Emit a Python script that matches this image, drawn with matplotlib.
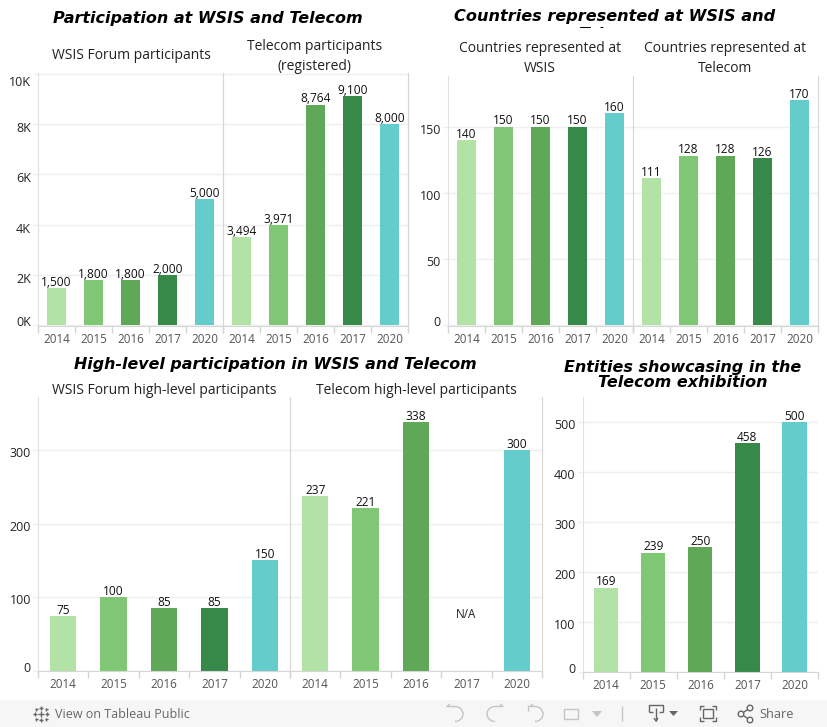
import matplotlib
matplotlib.use("Agg")
import matplotlib.pyplot as plt
from matplotlib.patches import Rectangle, Circle, Arc
from matplotlib.transforms import Bbox, ScaledTranslation
from matplotlib.ticker import FixedLocator, FixedFormatter

W, H = 827, 727
plt.rcParams['font.family'] = ['Open Sans', 'DejaVu Sans']

years = ['2014', '2015', '2016', '2017', '2020']
colors = ['#b3e2a6', '#80c775', '#5ea857', '#37894a', '#64cdcc']

wsis_participants = [1500, 1800, 1800, 2000, 5000]
telecom_participants = [3494, 3971, 8764, 9100, 8000]
wsis_countries = [140, 150, 150, 150, 160]
telecom_countries = [111, 128, 128, 126, 170]
wsis_high_level = [75, 100, 85, 85, 150]
telecom_high_level = [237, 221, 338, None, 300]
exhibition_entities = [169, 239, 250, 458, 500]

fig = plt.figure(figsize=(W / 100, H / 100), dpi=100, facecolor='white')

GRID = '#efefef'
AXIS = '#d6d6d6'
TICKC = '#555555'


def make_axes(l, r, t, b):
    return fig.add_axes([l / W, 1 - b / H, (r - l) / W, (b - t) / H])


def pane(l, r, t, b, zero_px, per_unit, values, yticks, ylabels, first, shifts=None, label_size=8.6):
    ax = make_axes(l, r, t, b)
    ax.set_xlim(-0.5, 4.5)
    ax.set_ylim((zero_px - b) / per_unit, (zero_px - t) / per_unit)
    ax.set_axisbelow(True)
    xs = [i for i, v in enumerate(values) if v is not None]
    ax.bar(xs, [values[i] for i in xs], width=0.52,
           color=[colors[i] for i in xs], linewidth=0, zorder=2)
    for i in xs:
        ax.annotate(f'{values[i]:,}', (i, values[i]), xytext=(0, -0.6),
                    textcoords='offset points', ha='center', va='bottom',
                    fontsize=label_size, color='#111111', zorder=4)
    ax.yaxis.set_major_locator(FixedLocator(yticks))
    ax.yaxis.set_major_formatter(FixedFormatter(ylabels if first else [''] * len(yticks)))
    ax.grid(axis='y', color=GRID, linewidth=1)
    ax.tick_params(axis='y', length=3.6 if first else 0, color=GRID,
                   labelsize=9, labelcolor='#222222', pad=1.5, width=1)
    ax.set_xticks(range(5))
    ax.set_xticklabels(years, fontsize=8.4, color=TICKC)
    ax.tick_params(axis='x', length=0, pad=5.2)
    ax.set_xticks([i + 0.5 for i in range(-1, 5)], minor=True)
    ax.tick_params(axis='x', which='minor', length=5, color=AXIS, width=1)
    ax.spines['top'].set_visible(False)
    ax.spines['bottom'].set_color(AXIS)
    ax.spines['left'].set_color('#e2e2e2' if first else AXIS)
    ax.spines['right'].set_color(AXIS)
    ax.spines['right'].set_visible(not first)
    if shifts:
        for lab, s in zip(ax.get_yticklabels(), shifts):
            lab.set_transform(lab.get_transform() + ScaledTranslation(0, -s / 100, fig.dpi_scale_trans))
    return ax


K = 25.2
pane(38, 223, 73, 326, 325.5, K / 1000, wsis_participants,
     [0, 2000, 4000, 6000, 8000, 10000], ['0K', '2K', '4K', '6K', '8K', '10K'], True,
     shifts=[-4, 3, 3, 3, 3, 8])
pane(223, 408, 73, 326, 325.5, K / 1000, telecom_participants,
     [0, 2000, 4000, 6000, 8000, 10000], [''] * 6, False)

pane(448, 633, 76, 326, 325, 1.323, wsis_countries,
     [0, 50, 100, 150], ['0', '50', '100', '150'], True, shifts=[-4, 2, 2, 2])
pane(633, 818, 76, 326, 325, 1.323, telecom_countries,
     [0, 50, 100, 150], [''] * 4, False)

pane(38, 290, 397, 671, 671, 0.7367, wsis_high_level,
     [0, 100, 200, 300], ['0', '100', '200', '300'], True, shifts=[-4, 2, 2, 2])
ax_hl = pane(290, 542, 397, 671, 671, 0.7367, telecom_high_level,
             [0, 100, 200, 300], [''] * 4, False)
ax_hl.text(3, 77, 'N/A', ha='center', va='center', fontsize=8.4, color='#222222')

ax4 = pane(582.5, 818, 397, 672, 672, 0.5, exhibition_entities,
           [0, 100, 200, 300, 400, 500], ['0', '100', '200', '300', '400', '500'], True,
           shifts=[-4, 2, 2, 2, 2, 2])

# Overlay in pixel coordinates for titles and the toolbar
ov = fig.add_axes([0, 0, 1, 1], facecolor='none')
ov.set_xlim(0, W)
ov.set_ylim(H, 0)
ov.axis('off')

title_kw = dict(family='DejaVu Sans', fontweight='bold', fontstyle='italic',
                fontsize=11.5, color='#000000', ha='center', va='center')
sub_kw = dict(fontsize=10.0, color='#222222', ha='center', va='center')

ov.text(208, 19, 'Participation at WSIS and Telecom', **title_kw)
clipped = ov.text(615, 25.5, 'Countries represented at WSIS and\nTelecom', linespacing=1.3,
                  **{**title_kw, 'fontsize': 11.6})
clipped.set_clip_box(Bbox([[0, H - 27.5], [W, H]]))
clipped.set_clip_on(True)
ov.text(275, 365, 'High-level participation in WSIS and Telecom',
        **{**title_kw, 'fontsize': 11.43})
ov.text(682.5, 375, 'Entities showcasing in the\nTelecom exhibition', linespacing=1.0, **title_kw)

ov.text(131, 55.5, 'WSIS Forum participants', **sub_kw)
ov.text(315, 56.5, 'Telecom participants\n(registered)', linespacing=1.5, **sub_kw)
ov.text(540, 58.5, 'Countries represented at\nWSIS', linespacing=1.5, **sub_kw)
ov.text(725, 58.5, 'Countries represented at\nTelecom', linespacing=1.5, **sub_kw)
ov.text(164, 390.5, 'WSIS Forum high-level participants', **sub_kw)
ov.text(416, 390.5, 'Telecom high-level participants', **sub_kw)

# Toolbar
ov.add_patch(Rectangle((0, 700), W, 27, facecolor='#f6f6f6', edgecolor='none', zorder=5))
ov.text(55, 714, 'View on Tableau Public', fontsize=9.0, color='#666666', va='center', zorder=6)
ov.text(759, 714, 'Share', fontsize=9.2, color='#666666', va='center', zorder=6)

ic = dict(color='#666666', linewidth=1, zorder=6, solid_capstyle='butt')
ig = dict(color='#c4c4c4', linewidth=1, zorder=6, solid_capstyle='butt')
# Tableau mark
for (cx, cy, s) in [(41, 714, 6), (35, 714, 4), (47, 714, 4), (41, 708, 4), (41, 720, 4),
                    (36, 709, 3), (46, 709, 3), (36, 719, 3), (46, 719, 3)]:
    ov.plot([cx - s / 2, cx + s / 2], [cy, cy], **ic)
    ov.plot([cx, cx], [cy - s / 2, cy + s / 2], **ic)
# Undo, redo, revert, refresh
ov.add_patch(Arc((455, 714), 16, 15, theta1=-90, theta2=90, color='#c4c4c4', lw=1, zorder=6))
ov.plot([455, 447, 450], [706.5, 706.5, 704], **ig)
ov.add_patch(Arc((495, 714), 16, 15, theta1=90, theta2=270, color='#c4c4c4', lw=1, zorder=6))
ov.plot([495, 503, 500], [706.5, 706.5, 704], **ig)
ov.add_patch(Arc((535, 714), 16, 15, theta1=-90, theta2=90, color='#c4c4c4', lw=1, zorder=6))
ov.plot([535, 530, 533], [706.5, 706.5, 704], **ig)
ov.plot([528, 528], [705, 711], **ig)
ov.add_patch(Rectangle((564, 709), 14, 10, facecolor='none', edgecolor='#c4c4c4', lw=1, zorder=6))
ov.fill([592, 602, 597], [711, 711, 717], color='#c4c4c4', zorder=6, lw=0)
ov.plot([622, 622], [706, 721], **ig)
# Download
ov.plot([649, 649, 663, 663], [712, 705, 705, 712], **ic)
ov.plot([649, 653], [712, 712], **ic)
ov.plot([659, 663], [712, 712], **ic)
ov.plot([656, 656], [708, 721], **ic)
ov.plot([654, 656, 658], [718, 721, 718], **ic)
ov.fill([669, 678, 673.5], [711, 711, 716], color='#666666', zorder=6, lw=0)
# Full screen
ov.plot([700, 700, 704], [710, 706, 706], **ic)
ov.plot([712, 716, 716], [706, 706, 710], **ic)
ov.plot([700, 700, 704], [717, 721, 721], **ic)
ov.plot([712, 716, 716], [721, 721, 717], **ic)
ov.add_patch(Rectangle((703, 709), 10, 9, facecolor='none', edgecolor='#666666', lw=1, zorder=6))
# Share
for (cx, cy) in [(741, 714), (750, 708), (750, 720)]:
    ov.add_patch(Circle((cx, cy), 2.8, facecolor='#f6f6f6', edgecolor='#666666', lw=1, zorder=7))
ov.plot([741, 750], [714, 708], **ic)
ov.plot([741, 750], [714, 720], **ic)

fig.savefig('out.png', dpi=100)
